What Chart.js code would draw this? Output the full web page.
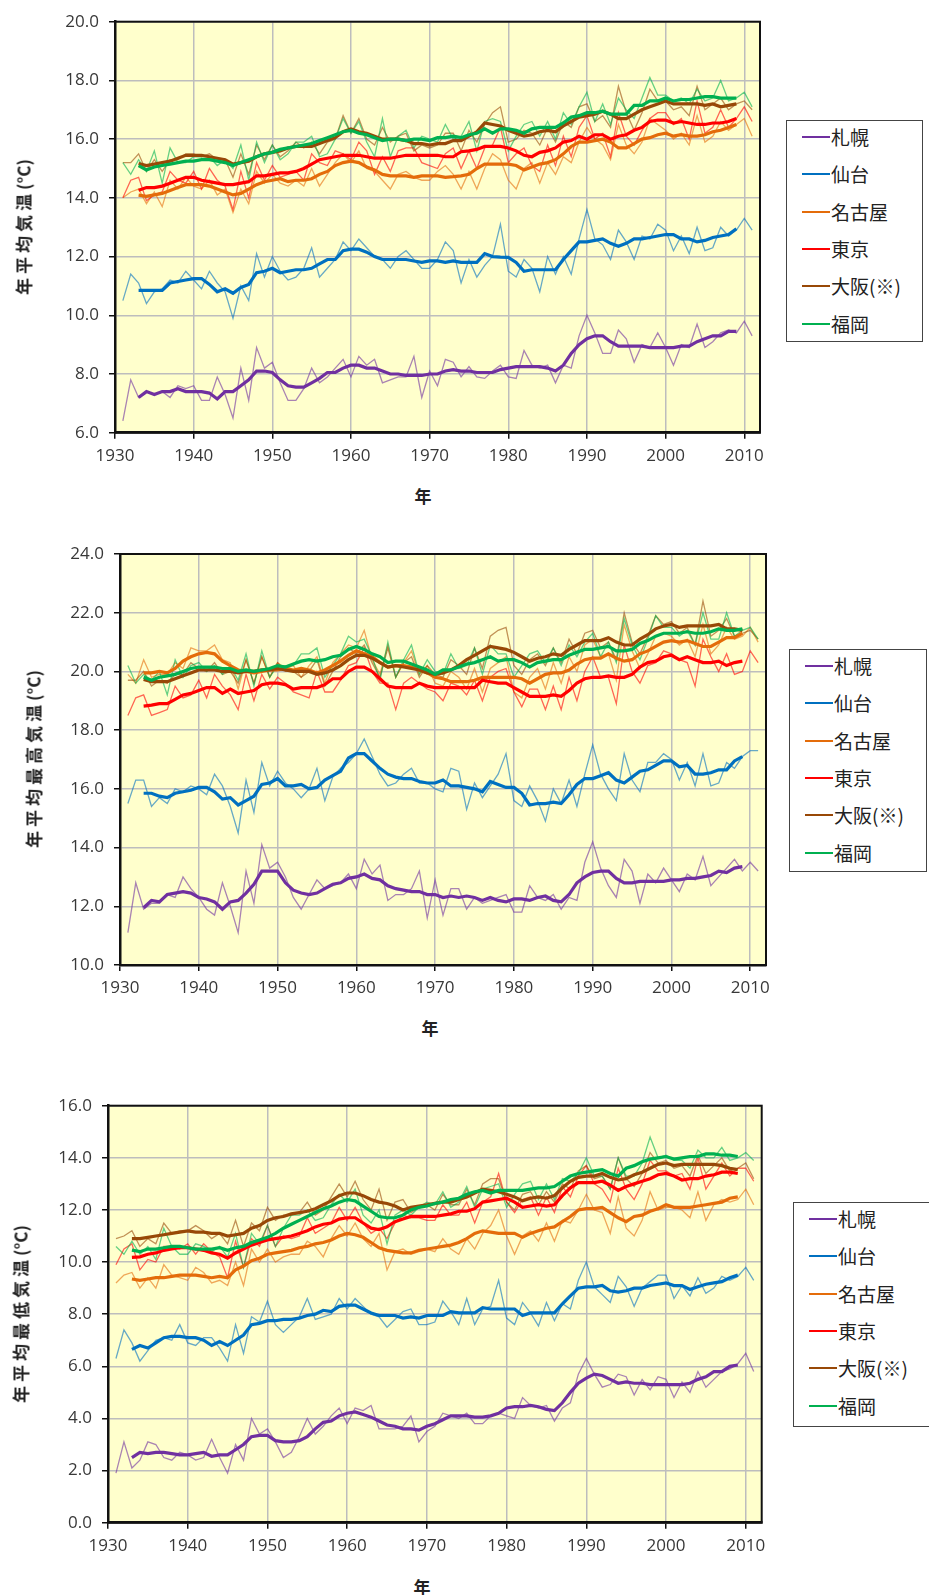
<!DOCTYPE html>
<html>
<head>
<meta charset="utf-8">
<script src="https://cdn.jsdelivr.net/npm/chart.js@4.4.0/dist/chart.umd.min.js"></script>
<style>
  body { margin: 0; background: #fff; width: 929px; height: 1595px; position: relative; overflow: hidden; }
  canvas { position: absolute; left: 0; }
  .ytitle { position: absolute; font: bold 17px "Noto Sans CJK JP", sans-serif; letter-spacing: 4px; color: #222;
            white-space: nowrap; transform: translate(-50%, -50%) rotate(-90deg); }
  .ytitle span { letter-spacing: 0; }
  .xtitle { position: absolute; font: bold 17px "Noto Sans CJK JP", sans-serif; color: #222; transform: translate(-50%, -50%); }
  .legend { position: absolute; border: 1.5px solid #444; background: #fff; box-sizing: border-box; }
  .legend .swatch { position: absolute; height: 2px; }
  .legend .label { position: absolute; font: 19px "Noto Sans CJK JP", sans-serif; color: #222; line-height: 24px;
                   white-space: nowrap; transform: translateY(-50%); }
</style>
</head>
<body>
<canvas id="chartMean" width="929" height="480" style="top:0px"></canvas>
<canvas id="chartMax" width="929" height="480" style="top:530px"></canvas>
<canvas id="chartMin" width="929" height="480" style="top:1085px"></canvas>
<script>
// ---- data ----------------------------------------------------------------
const cityNames = ['札幌', '仙台', '名古屋', '東京', '大阪(※)', '福岡'];
const cityColors = ['#7030A0', '#0070C0', '#E46C0A', '#FF0000', '#984807', '#00B050'];
const xTickYears = [1930, 1940, 1950, 1960, 1970, 1980, 1990, 2000, 2010];
const firstYear = 1931;        // annual values, 1931-2011
const firstMovingYear = 1933;  // 5-year running means, 1933-2009

const meanRange = [6, 20];
const maxRange = [10, 24];
const minRange = [0, 16];

// 年平均気温
const meanSapporo = [6.4, 7.8, 7.2, 7.4, 7.3, 7.4, 7.2, 7.6, 7.5, 7.6,
  7.1, 7.1, 7.9, 7.3, 6.5, 8.2, 7.1, 8.9, 8.2, 8.4,
  7.7, 7.1, 7.1, 7.5, 8.2, 7.7, 7.9, 8.2, 8.5, 7.9,
  8.6, 8.3, 8.5, 7.7, 7.8, 7.9, 7.9, 8.6, 7.2, 8.1,
  7.6, 8.5, 8.4, 7.9, 8.25, 7.9, 7.85, 8.1, 8.3, 7.9,
  7.85, 8.8, 8.3, 8.2, 8.3, 7.7, 8.3, 8.2, 9.3, 10.0,
  9.4, 8.7, 8.7, 9.5, 9.2, 8.4, 9.0, 8.9, 9.4, 8.9,
  8.3, 9.0, 8.9, 9.7, 8.9, 9.1, 9.4, 9.5, 9.4, 9.8, 9.3];
const meanSapporo5 = [7.2, 7.4, 7.3, 7.4, 7.4, 7.5, 7.4, 7.4,
  7.4, 7.35, 7.15, 7.4, 7.4, 7.6, 7.8, 8.1, 8.1, 8.05,
  7.8, 7.6, 7.55, 7.55, 7.7, 7.85, 8.05, 8.05, 8.2, 8.3,
  8.3, 8.2, 8.2, 8.1, 8.0, 8.0, 7.95, 7.95, 7.95, 8.0,
  8.0, 8.1, 8.15, 8.1, 8.1, 8.05, 8.05, 8.05, 8.15, 8.2,
  8.25, 8.25, 8.25, 8.25, 8.2, 8.1, 8.3, 8.7, 9.0, 9.2,
  9.3, 9.3, 9.1, 8.95, 8.95, 8.95, 8.95, 8.9, 8.9, 8.9,
  8.9, 8.95, 8.95, 9.1, 9.2, 9.3, 9.3, 9.45, 9.45];
const meanSendai = [10.5, 11.4, 11.1, 10.4, 10.8, 10.9, 11.2, 11.1, 11.5, 11.2,
  10.9, 11.5, 11.1, 10.8, 9.9, 11.0, 10.5, 12.1, 11.3, 12.0,
  11.5, 11.2, 11.3, 11.6, 12.3, 11.3, 11.6, 11.9, 12.5, 12.2,
  12.6, 12.3, 12.0, 11.9, 11.6, 12.0, 12.2, 11.9, 11.6, 11.6,
  11.9, 12.5, 12.2, 11.1, 11.9, 11.3, 11.7, 12.0, 13.1, 11.5,
  11.3, 11.9, 11.6, 10.8, 12.0, 11.4, 12.0, 11.4, 12.6, 13.6,
  12.6, 12.4, 11.9, 12.9, 12.5, 11.9, 12.7, 12.6, 13.1, 12.9,
  12.2, 12.7, 12.1, 13.0, 12.2, 12.3, 13.0, 12.7, 12.9, 13.3, 12.9];
const meanSendai5 = [10.85, 10.85, 10.85, 10.85, 11.1, 11.15, 11.2, 11.25,
  11.25, 11.05, 10.8, 10.9, 10.75, 10.95, 11.05, 11.45, 11.5, 11.6,
  11.45, 11.5, 11.55, 11.55, 11.6, 11.75, 11.9, 11.9, 12.2, 12.25,
  12.25, 12.15, 12.0, 11.9, 11.9, 11.9, 11.9, 11.85, 11.8, 11.85,
  11.85, 11.8, 11.85, 11.8, 11.8, 11.8, 12.1, 12.0, 11.98, 11.97,
  11.8, 11.5, 11.55, 11.55, 11.55, 11.55, 11.9, 12.2, 12.5, 12.5,
  12.55, 12.6, 12.45, 12.35, 12.45, 12.6, 12.6, 12.65, 12.7, 12.75,
  12.75, 12.6, 12.6, 12.5, 12.55, 12.65, 12.7, 12.75, 12.95];
const meanNagoya = [14.0, 14.2, 14.3, 13.8, 14.2, 13.7, 14.6, 14.3, 14.7, 14.4,
  14.3, 14.6, 14.1, 14.3, 13.5, 14.3, 13.8, 14.9, 14.5, 14.8,
  14.5, 14.4, 14.6, 14.4, 15.0, 14.4, 14.8, 15.2, 15.5, 15.2,
  15.6, 15.0, 14.9, 14.6, 14.3, 14.8, 14.9, 14.7, 14.6, 14.6,
  14.9, 15.1, 14.8, 14.3, 14.9, 14.3, 15.0, 15.5, 15.3, 14.6,
  14.3, 15.0, 15.2, 14.5, 15.2, 14.8, 15.4, 15.2, 15.9, 16.4,
  16.0, 15.8, 15.3, 16.5, 15.8, 15.5, 15.9, 16.7, 16.5, 16.3,
  16.0, 16.2, 15.8, 16.8, 15.9, 16.1, 16.6, 16.3, 16.5, 16.7, 16.1];
const meanNagoya5 = [14.09, 14.05, 14.1, 14.15, 14.25, 14.35, 14.45, 14.45,
  14.45, 14.4, 14.3, 14.2, 14.1, 14.15, 14.3, 14.45, 14.55, 14.6,
  14.65, 14.55, 14.6, 14.6, 14.65, 14.8, 14.9, 15.1, 15.2, 15.25,
  15.2, 15.05, 14.95, 14.8, 14.75, 14.75, 14.75, 14.7, 14.75, 14.75,
  14.75, 14.7, 14.72, 14.75, 14.8, 15.0, 15.15, 15.15, 15.15, 15.15,
  15.1, 14.95, 15.05, 15.15, 15.2, 15.3, 15.5, 15.75, 15.9, 15.9,
  15.95, 16.0, 15.9, 15.7, 15.7, 15.85, 16.0, 16.05, 16.15, 16.2,
  16.1, 16.15, 16.1, 16.1, 16.15, 16.25, 16.3, 16.4, 16.5];
const meanTokyo = [14.0, 14.6, 14.7, 13.9, 14.1, 14.2, 14.9, 14.6, 14.5, 14.9,
  14.3, 15.0, 14.6, 14.4, 13.6, 14.9, 14.0, 15.2, 14.6, 15.1,
  14.7, 14.8, 14.9, 14.6, 15.5, 15.2, 15.1, 15.6, 15.5, 15.3,
  15.9, 15.6, 14.8, 15.4, 14.9, 15.6, 15.7, 15.7, 15.2, 15.1,
  15.0, 15.5, 15.7, 15.0, 15.6, 15.0, 15.7, 15.8, 16.4, 15.2,
  15.5, 15.7, 15.1, 14.9, 15.8, 15.1, 16.1, 15.4, 16.4, 16.8,
  16.0, 16.2, 15.4, 16.9, 16.1, 15.8, 16.3, 16.7, 16.9, 16.9,
  16.5, 16.7, 16.0, 17.3, 16.2, 16.4, 17.0, 16.4, 16.7, 17.1, 16.6];
const meanTokyo5 = [14.26, 14.35, 14.35, 14.4, 14.5, 14.6, 14.7, 14.7,
  14.6, 14.55, 14.5, 14.45, 14.45, 14.5, 14.55, 14.75, 14.75, 14.8,
  14.85, 14.85, 14.9, 15.0, 15.15, 15.3, 15.35, 15.4, 15.45, 15.45,
  15.45, 15.4, 15.35, 15.35, 15.35, 15.4, 15.45, 15.45, 15.45, 15.45,
  15.45, 15.4, 15.4, 15.57, 15.6, 15.65, 15.75, 15.75, 15.75, 15.7,
  15.6, 15.45, 15.4, 15.55, 15.6, 15.7, 15.9, 15.95, 16.1, 16.0,
  16.15, 16.15, 16.0, 16.1, 16.15, 16.3, 16.4, 16.6, 16.65, 16.65,
  16.55, 16.6, 16.55, 16.5, 16.5, 16.55, 16.55, 16.6, 16.7];
const meanOsaka = [15.2, 15.2, 15.5, 14.9, 15.3, 14.9, 15.3, 15.3, 15.5, 15.5,
  15.4, 15.5, 15.3, 15.3, 14.7, 15.5, 14.8, 15.8, 15.3, 15.8,
  15.4, 15.6, 15.9, 15.7, 15.9, 15.5, 15.9, 16.0, 16.8, 16.2,
  16.7, 16.0, 15.8, 16.4, 15.9, 16.1, 16.2, 15.6, 15.8, 15.7,
  15.8, 16.2, 16.2, 15.6, 16.3, 15.9, 16.5, 16.9, 17.1, 15.9,
  16.0, 16.3, 16.2, 15.8, 16.4, 15.9, 16.6, 16.4, 17.1, 17.2,
  16.6, 16.8, 16.4, 17.8, 16.9, 16.3, 16.9, 17.7, 17.3, 17.3,
  17.0, 17.1, 16.8, 17.8, 17.0, 17.2, 17.4, 17.0, 17.2, 17.3, 17.0];
const meanOsaka5 = [15.17, 15.1, 15.15, 15.2, 15.25, 15.35, 15.45, 15.45,
  15.45, 15.4, 15.35, 15.3, 15.15, 15.2, 15.25, 15.4, 15.5, 15.55,
  15.6, 15.7, 15.75, 15.75, 15.75, 15.85, 15.95, 16.05, 16.25, 16.35,
  16.25, 16.2, 16.1, 16.0, 16.0, 16.0, 15.95, 15.85, 15.85, 15.8,
  15.85, 15.85, 15.95, 15.95, 16.1, 16.25, 16.55, 16.5, 16.45, 16.3,
  16.2, 16.1, 16.15, 16.25, 16.3, 16.25, 16.45, 16.6, 16.75, 16.8,
  16.85, 16.95, 16.85, 16.7, 16.7, 16.85, 17.0, 17.1, 17.2, 17.3,
  17.2, 17.2, 17.2, 17.2, 17.15, 17.2, 17.1, 17.15, 17.2];
const meanFukuoka = [15.2, 14.8, 15.3, 14.9, 15.6, 14.5, 15.7, 15.2, 15.2, 15.4,
  15.4, 15.4, 15.1, 15.3, 15.0, 15.8, 14.6, 15.9, 15.2, 15.8,
  15.3, 15.5, 15.9, 15.9, 16.1, 15.4, 15.5, 16.0, 16.7, 16.2,
  16.6, 15.9, 15.4, 16.7, 15.4, 16.1, 16.3, 15.7, 16.1, 16.0,
  15.9, 16.5, 16.0, 16.1, 16.6, 15.6, 16.6, 16.7, 16.6, 15.6,
  16.1, 16.5, 16.6, 16.1, 16.6, 16.0, 16.9, 16.5, 17.1, 17.6,
  16.6, 17.2, 16.5, 17.4, 17.0, 16.7, 17.4, 18.1, 17.5, 17.5,
  17.3, 17.4, 17.2, 17.7, 17.3, 17.4, 18.0, 17.3, 17.4, 17.6, 17.1];
const meanFukuoka5 = [15.1, 14.95, 15.05, 15.1, 15.15, 15.2, 15.25, 15.25,
  15.3, 15.3, 15.25, 15.2, 15.1, 15.2, 15.3, 15.4, 15.5, 15.55,
  15.65, 15.7, 15.75, 15.8, 15.85, 15.95, 16.05, 16.15, 16.25, 16.3,
  16.2, 16.15, 16.05, 15.95, 16.0, 16.0, 15.95, 16.0, 16.0, 15.95,
  16.05, 16.05, 16.1, 16.05, 16.15, 16.2, 16.35, 16.2, 16.35, 16.35,
  16.3, 16.2, 16.35, 16.4, 16.4, 16.4, 16.55, 16.75, 16.8, 16.9,
  16.9, 16.95, 16.85, 16.85, 16.85, 17.15, 17.15, 17.3, 17.3, 17.4,
  17.3, 17.35, 17.35, 17.4, 17.45, 17.45, 17.4, 17.4, 17.4];

// 年平均最高気温
const maxSapporo = [11.1, 12.8, 11.9, 12.1, 12.1, 12.4, 12.3, 13.0, 12.6, 12.3,
  11.9, 11.7, 12.8, 12.0, 11.1, 13.2, 12.1, 14.1, 13.3, 13.5,
  13.0, 12.3, 11.9, 12.4, 12.9, 12.6, 12.7, 12.8, 13.1, 12.6,
  13.6, 13.1, 13.4, 12.2, 12.4, 12.4, 12.6, 13.2, 11.6, 12.9,
  11.7, 12.6, 12.6, 11.9, 12.3, 12.1, 12.2, 12.3, 12.4, 11.8,
  11.8, 12.7, 12.3, 12.2, 12.4, 11.9, 12.3, 12.2, 13.5, 14.2,
  13.3, 12.7, 12.3, 13.6, 13.2, 12.1, 13.1, 12.8, 13.3, 12.9,
  12.5, 13.1, 12.9, 13.7, 12.7, 13.0, 13.3, 13.6, 13.2, 13.5, 13.2];
const maxSapporo5 = [11.95, 12.2, 12.15, 12.4, 12.45, 12.5, 12.45, 12.3,
  12.25, 12.15, 11.9, 12.15, 12.2, 12.45, 12.75, 13.2, 13.2, 13.2,
  12.8, 12.55, 12.45, 12.4, 12.45, 12.6, 12.75, 12.8, 12.95, 13.0,
  13.1, 12.95, 12.9, 12.7, 12.6, 12.55, 12.5, 12.5, 12.4, 12.4,
  12.3, 12.35, 12.3, 12.35, 12.3, 12.2, 12.3, 12.2, 12.15, 12.25,
  12.25, 12.2, 12.3, 12.35, 12.2, 12.15, 12.4, 12.8, 13.0, 13.15,
  13.2, 13.2, 12.95, 12.8, 12.8, 12.85, 12.85, 12.85, 12.85, 12.9,
  12.9, 12.95, 12.95, 13.0, 13.05, 13.2, 13.15, 13.3, 13.35];
const maxSendai = [15.5, 16.3, 16.3, 15.4, 15.7, 15.5, 16.0, 15.9, 16.1, 16.0,
  15.8, 16.5, 16.1, 15.4, 14.5, 16.3, 15.2, 16.9, 16.1, 16.6,
  16.2, 16.0, 15.7, 16.0, 16.7, 15.6, 16.4, 16.7, 16.9, 17.2,
  17.7, 17.1, 16.5, 16.1, 16.2, 16.5, 16.7, 16.2, 16.2, 16.0,
  15.9, 16.7, 16.6, 15.3, 16.2, 15.7, 16.1, 16.5, 17.2, 15.6,
  15.4, 16.1, 15.6, 14.9, 16.0, 15.5, 16.3, 15.4, 16.5, 17.5,
  16.5, 16.0, 15.6, 17.2, 16.3, 15.9, 16.9, 16.9, 17.2, 17.0,
  16.3, 16.9, 16.1, 17.2, 16.1, 16.2, 16.9, 16.7, 17.1, 17.3, 17.3];
const maxSendai5 = [15.85, 15.85, 15.75, 15.7, 15.85, 15.9, 15.95, 16.05,
  16.05, 15.9, 15.65, 15.7, 15.45, 15.6, 15.75, 16.15, 16.2, 16.35,
  16.1, 16.1, 16.15, 16.0, 16.05, 16.3, 16.45, 16.6, 17.05, 17.2,
  17.2, 16.95, 16.7, 16.5, 16.4, 16.35, 16.35, 16.25, 16.2, 16.2,
  16.3, 16.1, 16.1, 16.05, 16.0, 15.9, 16.25, 16.15, 16.05, 16.05,
  15.85, 15.45, 15.5, 15.5, 15.55, 15.5, 15.8, 16.15, 16.35, 16.35,
  16.45, 16.55, 16.3, 16.2, 16.4, 16.6, 16.65, 16.8, 16.95, 16.95,
  16.75, 16.8, 16.5, 16.5, 16.55, 16.65, 16.65, 16.95, 17.1];
const maxNagoya = [19.9, 19.6, 20.4, 19.8, 19.9, 19.9, 20.3, 20.1, 20.8, 20.7,
  20.7, 20.9, 20.4, 20.3, 19.4, 20.4, 19.6, 20.5, 19.8, 20.3,
  20.1, 20.2, 19.8, 20.2, 20.5, 19.6, 20.3, 20.6, 20.9, 20.8,
  21.4, 20.4, 19.9, 20.9, 19.8, 20.3, 20.7, 19.9, 20.2, 19.6,
  19.5, 20.0, 19.8, 19.4, 20.1, 19.3, 20.1, 20.3, 20.5, 19.3,
  19.1, 19.8, 20.1, 19.4, 20.3, 19.6, 20.5, 20.0, 20.9, 21.1,
  20.5, 20.6, 19.7, 21.6, 20.7, 20.1, 20.6, 21.2, 21.3, 21.2,
  20.9, 21.1, 20.5, 21.6, 20.6, 20.9, 21.5, 21.1, 21.2, 21.5, 21.0];
const maxNagoya5 = [19.95, 19.95, 20.0, 19.95, 20.1, 20.35, 20.5, 20.6,
  20.65, 20.6, 20.35, 20.2, 20.05, 20.0, 19.95, 20.0, 20.05, 20.05,
  20.1, 20.05, 20.1, 20.05, 19.95, 20.05, 20.2, 20.35, 20.55, 20.7,
  20.6, 20.5, 20.3, 20.15, 20.2, 20.2, 20.15, 20.05, 19.95, 19.8,
  19.75, 19.65, 19.65, 19.65, 19.7, 19.8, 19.8, 19.8, 19.8, 19.8,
  19.75, 19.6, 19.75, 19.9, 19.95, 19.95, 20.05, 20.25, 20.4, 20.45,
  20.45, 20.6, 20.45, 20.35, 20.4, 20.6, 20.7, 20.85, 21.0, 21.05,
  21.0, 21.05, 20.95, 20.85, 20.85, 21.0, 21.15, 21.15, 21.3];
const maxTokyo = [18.5, 19.1, 19.2, 18.5, 18.6, 18.7, 19.5, 19.1, 19.2, 19.7,
  19.1, 19.9, 19.5, 19.2, 18.7, 19.9, 19.0, 19.9, 19.4, 19.8,
  19.6, 19.3, 19.2, 19.1, 20.0, 19.3, 19.3, 19.7, 20.2, 20.3,
  20.8, 20.0, 19.6, 19.6, 18.7, 19.6, 19.8, 19.6, 19.4, 19.3,
  19.0, 19.6, 19.5, 19.2, 19.7, 19.0, 19.8, 20.0, 20.1, 19.3,
  18.8, 19.4, 19.4, 18.7, 19.5, 18.7, 19.8, 19.0, 20.0, 20.5,
  19.8, 19.8, 18.9, 20.9, 20.0, 19.6, 20.2, 20.3, 20.7, 20.6,
  20.4, 20.3, 19.5, 21.1, 20.5, 20.0, 20.6, 19.9, 20.0, 20.7, 20.3];
const maxTokyo5 = [18.82, 18.85, 18.9, 18.9, 19.05, 19.2, 19.25, 19.35,
  19.45, 19.45, 19.25, 19.4, 19.25, 19.3, 19.35, 19.55, 19.6, 19.6,
  19.55, 19.4, 19.45, 19.45, 19.45, 19.55, 19.75, 19.75, 20.0, 20.15,
  20.15, 20.0, 19.75, 19.5, 19.45, 19.45, 19.45, 19.6, 19.5, 19.45,
  19.45, 19.45, 19.45, 19.45, 19.45, 19.7, 19.65, 19.6, 19.6, 19.45,
  19.3, 19.15, 19.15, 19.15, 19.2, 19.15, 19.35, 19.6, 19.75, 19.8,
  19.8, 19.85, 19.8, 19.8, 19.9, 20.15, 20.3, 20.35, 20.5, 20.55,
  20.4, 20.5, 20.4, 20.3, 20.3, 20.35, 20.2, 20.3, 20.35];
const maxOsaka = [19.7, 19.7, 20.0, 19.5, 19.7, 19.6, 19.9, 19.9, 20.3, 20.1,
  20.0, 20.3, 19.9, 20.0, 19.6, 20.4, 19.6, 20.5, 19.8, 20.3,
  20.0, 20.0, 19.8, 20.0, 20.4, 19.5, 20.0, 20.5, 20.8, 20.6,
  20.9, 20.3, 19.8, 20.8, 19.8, 20.3, 20.5, 19.8, 20.2, 19.9,
  19.8, 20.4, 20.2, 19.9, 20.8, 20.1, 21.2, 21.4, 21.5, 20.2,
  19.9, 20.4, 20.6, 20.2, 20.8, 20.3, 21.1, 20.6, 21.3, 21.4,
  20.8, 21.0, 20.4, 22.0, 21.0, 20.6, 21.2, 21.9, 21.6, 21.7,
  21.3, 21.5, 20.9, 22.4, 21.2, 21.4, 21.8, 21.2, 21.3, 21.4, 21.1];
const maxOsaka5 = [19.73, 19.65, 19.65, 19.65, 19.75, 19.85, 19.95, 20.05,
  20.05, 20.05, 20.0, 20.0, 19.95, 20.0, 20.0, 20.05, 20.05, 20.1,
  20.05, 20.0, 20.0, 20.0, 19.9, 19.95, 20.05, 20.2, 20.4, 20.55,
  20.55, 20.45, 20.3, 20.15, 20.2, 20.15, 20.1, 20.05, 19.95, 19.9,
  19.95, 20.05, 20.2, 20.4, 20.55, 20.7, 20.85, 20.8, 20.75, 20.65,
  20.5, 20.35, 20.45, 20.5, 20.6, 20.55, 20.75, 20.9, 21.05, 21.05,
  21.05, 21.15, 21.0, 20.9, 20.9, 21.1, 21.25, 21.45, 21.55, 21.6,
  21.5, 21.55, 21.55, 21.55, 21.55, 21.6, 21.45, 21.45, 21.4];
const maxFukuoka = [20.2, 19.6, 19.9, 19.7, 20.0, 19.2, 20.4, 19.8, 20.2, 20.3,
  20.0, 20.2, 19.9, 20.2, 19.7, 20.6, 19.5, 20.7, 19.8, 20.2,
  20.2, 20.2, 20.6, 20.6, 20.8, 19.8, 20.2, 20.6, 21.2, 21.0,
  21.1, 20.5, 19.7, 21.0, 19.8, 20.4, 20.9, 19.9, 20.4, 20.0,
  19.9, 20.6, 20.1, 20.2, 20.8, 19.9, 20.9, 20.6, 20.6, 19.8,
  20.2, 20.6, 20.7, 20.3, 20.8, 20.2, 20.9, 20.5, 21.0, 21.3,
  20.5, 21.0, 20.3, 21.8, 20.9, 20.4, 21.1, 21.9, 21.5, 21.5,
  21.2, 21.4, 20.9, 22.0, 21.1, 21.1, 22.0, 21.2, 21.4, 21.5, 21.1];
const maxFukuoka5 = [19.8, 19.7, 19.8, 19.85, 19.9, 20.0, 20.1, 20.15,
  20.15, 20.15, 20.1, 20.1, 20.0, 20.05, 20.0, 20.05, 20.1, 20.2,
  20.15, 20.25, 20.35, 20.4, 20.35, 20.4, 20.5, 20.55, 20.75, 20.85,
  20.75, 20.6, 20.5, 20.3, 20.35, 20.35, 20.25, 20.15, 20.05, 19.9,
  20.05, 20.05, 20.15, 20.25, 20.3, 20.4, 20.5, 20.35, 20.4, 20.4,
  20.3, 20.15, 20.3, 20.35, 20.4, 20.4, 20.55, 20.65, 20.75, 20.75,
  20.8, 20.85, 20.7, 20.7, 20.75, 20.95, 21.05, 21.2, 21.3, 21.3,
  21.3, 21.35, 21.3, 21.3, 21.35, 21.45, 21.4, 21.4, 21.45];

// 年平均最低気温
const minSapporo = [1.9, 3.1, 2.1, 2.4, 3.1, 3.0, 2.5, 2.4, 2.7, 2.6,
  2.4, 2.5, 3.2, 2.5, 1.9, 3.0, 2.4, 4.0, 3.4, 3.6,
  3.1, 2.5, 2.7, 3.3, 4.0, 3.4, 3.7, 4.1, 4.4, 3.8,
  4.4, 4.3, 4.5, 3.6, 3.6, 3.6, 3.7, 4.1, 3.1, 3.5,
  3.7, 4.2, 4.1, 4.0, 4.2, 3.8, 3.8, 4.1, 4.2, 4.1,
  4.0, 4.8, 4.5, 4.4, 4.5, 3.9, 4.4, 4.6, 5.7, 6.3,
  5.7, 5.2, 5.3, 5.7, 5.6, 4.9, 5.5, 5.1, 5.6, 5.5,
  4.8, 5.4, 5.0, 5.8, 5.2, 5.5, 5.8, 5.9, 6.1, 6.5, 5.8];
const minSapporo5 = [2.5, 2.7, 2.65, 2.7, 2.7, 2.65, 2.6, 2.6,
  2.65, 2.7, 2.55, 2.6, 2.6, 2.8, 3.0, 3.3, 3.35, 3.35,
  3.15, 3.1, 3.1, 3.15, 3.3, 3.6, 3.85, 3.9, 4.1, 4.2,
  4.25, 4.15, 4.05, 3.9, 3.75, 3.7, 3.6, 3.6, 3.55, 3.7,
  3.8, 3.95, 4.1, 4.1, 4.1, 4.05, 4.05, 4.1, 4.2, 4.4,
  4.45, 4.45, 4.5, 4.45, 4.35, 4.3, 4.6, 5.0, 5.35, 5.55,
  5.7, 5.65, 5.5, 5.35, 5.4, 5.35, 5.35, 5.3, 5.3, 5.3,
  5.3, 5.3, 5.35, 5.5, 5.6, 5.8, 5.8, 6.0, 6.05];
const minSendai = [6.3, 7.4, 6.9, 6.2, 6.6, 7.0, 7.1, 7.0, 7.6, 6.9,
  6.8, 7.1, 7.1, 6.7, 6.2, 7.6, 6.5, 7.9, 7.7, 8.5,
  7.6, 7.3, 7.6, 7.9, 8.6, 7.8, 7.9, 8.0, 8.6, 8.2,
  8.6, 8.3, 8.0, 7.9, 7.5, 7.8, 8.1, 8.2, 7.6, 7.6,
  7.7, 8.5, 8.1, 7.6, 8.6, 7.6, 8.2, 8.3, 9.3, 7.85,
  7.6, 8.45, 8.05, 7.55, 8.45, 7.75, 8.4, 8.2, 9.3, 10.0,
  9.05, 8.75, 8.45, 9.45, 9.05, 8.3, 9.0, 9.25, 9.5, 9.5,
  8.6, 9.1, 8.7, 9.4, 8.8, 9.0, 9.45, 9.3, 9.45, 9.8, 9.3];
const minSendai5 = [6.65, 6.8, 6.7, 6.9, 7.1, 7.15, 7.15, 7.1,
  7.1, 7.0, 6.8, 6.95, 6.8, 7.0, 7.2, 7.6, 7.65, 7.75,
  7.75, 7.8, 7.8, 7.85, 7.95, 8.0, 8.15, 8.1, 8.3, 8.35,
  8.35, 8.2, 8.05, 7.95, 7.95, 7.95, 7.85, 7.9, 7.85, 7.95,
  7.95, 7.95, 8.1, 8.05, 8.05, 8.05, 8.25, 8.2, 8.2, 8.2,
  8.2, 7.95, 8.05, 8.05, 8.05, 8.05, 8.4, 8.7, 9.0, 9.05,
  9.05, 9.1, 8.9, 8.85, 8.9, 9.0, 9.0, 9.1, 9.15, 9.2,
  9.1, 9.1, 8.95, 9.05, 9.15, 9.2, 9.25, 9.4, 9.5];
const minNagoya = [9.2, 9.5, 9.6, 9.0, 9.4, 9.0, 9.9, 9.5, 9.4, 9.3,
  9.8, 9.6, 9.2, 9.3, 9.1, 10.0, 9.1, 10.5, 10.0, 10.5,
  10.0, 10.2, 10.3, 10.3, 10.8, 10.6, 10.2, 10.9, 11.4, 11.0,
  11.5, 10.9, 10.6, 11.1, 9.7, 10.4, 10.5, 10.3, 10.4, 10.5,
  10.4, 10.9, 10.5, 10.3, 10.9, 10.5, 11.1, 11.4, 12.0, 11.0,
  10.3, 11.0, 11.2, 10.8, 11.5, 10.8, 11.6, 11.5, 12.0, 12.6,
  12.0, 11.9, 11.1, 12.5, 11.3, 11.0, 11.6, 12.7, 12.0, 12.1,
  12.1, 12.0, 11.7, 12.7, 11.6, 12.2, 12.4, 12.3, 12.4, 12.8, 12.2];
const minNagoya5 = [9.35, 9.3, 9.35, 9.4, 9.4, 9.45, 9.5, 9.5,
  9.5, 9.45, 9.4, 9.45, 9.4, 9.7, 9.85, 10.05, 10.15, 10.3,
  10.35, 10.4, 10.45, 10.55, 10.6, 10.7, 10.75, 10.85, 11.0, 11.1,
  11.05, 10.95, 10.75, 10.55, 10.45, 10.4, 10.35, 10.35, 10.45, 10.5,
  10.55, 10.6, 10.65, 10.75, 10.9, 11.1, 11.2, 11.15, 11.1, 11.1,
  11.1, 10.95, 11.1, 11.2, 11.3, 11.35, 11.55, 11.75, 12.0, 12.05,
  12.05, 12.1, 11.9, 11.7, 11.55, 11.75, 11.8, 11.95, 12.05, 12.2,
  12.1, 12.1, 12.1, 12.15, 12.2, 12.25, 12.3, 12.45, 12.5];
const minTokyo = [9.9, 10.5, 10.7, 9.7, 10.1, 10.0, 10.6, 10.6, 10.5, 10.7,
  10.3, 10.7, 10.4, 10.2, 9.4, 10.8, 9.8, 10.9, 10.6, 11.4,
  10.6, 11.0, 10.9, 11.0, 11.7, 11.1, 11.3, 11.5, 12.1, 11.6,
  12.1, 11.5, 11.1, 11.3, 10.9, 11.5, 11.8, 11.7, 11.7, 11.6,
  11.6, 12.2, 11.8, 11.8, 12.3, 11.5, 12.3, 12.5, 13.4, 12.3,
  11.9, 12.4, 12.5, 11.8, 12.5, 11.9, 12.9, 12.5, 13.3, 13.7,
  13.0, 12.8, 12.3, 13.6, 12.8, 12.4, 13.0, 13.9, 13.5, 13.5,
  13.3, 13.4, 12.8, 14.0, 12.8, 13.3, 13.8, 13.3, 13.6, 13.6, 13.1];
const minTokyo5 = [10.18, 10.2, 10.3, 10.35, 10.45, 10.5, 10.55, 10.55,
  10.5, 10.45, 10.35, 10.3, 10.15, 10.35, 10.5, 10.65, 10.75, 10.85,
  10.9, 10.95, 11.0, 11.1, 11.2, 11.35, 11.45, 11.5, 11.65, 11.7,
  11.7, 11.5, 11.3, 11.25, 11.35, 11.55, 11.65, 11.75, 11.75, 11.75,
  11.75, 11.8, 11.85, 11.95, 11.95, 12.05, 12.3, 12.35, 12.4, 12.45,
  12.3, 12.1, 12.15, 12.2, 12.15, 12.2, 12.55, 12.85, 13.05, 13.05,
  13.05, 13.1, 12.95, 12.75, 12.9, 13.0, 13.1, 13.2, 13.35, 13.4,
  13.3, 13.15, 13.2, 13.2, 13.3, 13.35, 13.45, 13.45, 13.4];
const minOsaka = [10.9, 11.0, 11.2, 10.6, 10.9, 10.7, 11.5, 11.1, 11.2, 11.2,
  11.4, 11.2, 10.9, 11.1, 10.7, 11.6, 10.6, 11.5, 11.2, 12.1,
  11.6, 11.8, 11.8, 11.9, 12.3, 11.8, 12.0, 12.5, 13.0, 12.5,
  13.1, 12.4, 12.0, 12.8, 11.6, 12.3, 12.4, 11.9, 12.1, 12.2,
  12.0, 12.6, 12.2, 12.2, 12.8, 12.2, 13.0, 13.2, 13.2, 12.3,
  12.0, 12.6, 12.7, 12.2, 12.7, 12.3, 13.0, 12.8, 13.5, 13.7,
  13.2, 13.3, 12.8, 14.0, 13.2, 12.9, 13.4, 14.2, 13.8, 13.9,
  13.6, 13.7, 13.3, 14.1, 13.4, 13.7, 14.0, 13.5, 13.6, 13.8, 13.2];
const minOsaka5 = [10.9, 10.9, 10.95, 11.0, 11.05, 11.1, 11.15, 11.2,
  11.15, 11.15, 11.1, 11.1, 11.0, 11.05, 11.1, 11.3, 11.4, 11.6,
  11.7, 11.75, 11.85, 11.9, 11.95, 12.05, 12.2, 12.35, 12.55, 12.65,
  12.65, 12.55, 12.4, 12.3, 12.25, 12.15, 12.0, 12.1, 12.15, 12.2,
  12.25, 12.3, 12.3, 12.4, 12.5, 12.65, 12.8, 12.75, 12.7, 12.6,
  12.5, 12.35, 12.45, 12.5, 12.45, 12.55, 12.85, 13.1, 13.25, 13.3,
  13.3, 13.4, 13.25, 13.15, 13.2, 13.35, 13.45, 13.6, 13.75, 13.8,
  13.7, 13.75, 13.75, 13.75, 13.75, 13.75, 13.7, 13.6, 13.55];
const minFukuoka = [10.6, 10.3, 10.8, 10.3, 10.6, 10.1, 11.3, 10.6, 10.3, 10.3,
  10.7, 10.6, 10.4, 10.6, 10.2, 11.1, 9.8, 11.1, 10.7, 11.4,
  10.6, 11.3, 11.8, 11.8, 12.0, 11.6, 11.7, 12.2, 12.6, 12.3,
  12.8, 11.8, 11.5, 12.0, 10.7, 11.8, 12.0, 11.8, 12.1, 12.3,
  12.2, 12.7, 12.1, 12.3, 12.9, 12.1, 12.8, 12.9, 13.0, 12.1,
  12.6, 13.0, 13.1, 12.4, 13.0, 12.4, 13.2, 13.1, 13.4, 14.0,
  13.3, 13.3, 12.8, 14.0, 13.3, 13.3, 13.8, 14.8, 14.0, 14.1,
  13.9, 13.9, 13.6, 14.3, 14.0, 14.0, 14.4, 13.9, 14.0, 14.2, 13.9];
const minFukuoka5 = [10.46, 10.4, 10.5, 10.5, 10.55, 10.6, 10.6, 10.55,
  10.5, 10.5, 10.5, 10.55, 10.45, 10.55, 10.6, 10.75, 10.85, 10.95,
  11.1, 11.3, 11.45, 11.6, 11.75, 11.9, 12.05, 12.15, 12.3, 12.4,
  12.35, 12.15, 11.95, 11.75, 11.7, 11.7, 11.8, 12.0, 12.1, 12.15,
  12.25, 12.3, 12.4, 12.45, 12.6, 12.7, 12.75, 12.65, 12.75, 12.75,
  12.75, 12.75, 12.8, 12.85, 12.85, 12.9, 13.1, 13.3, 13.4, 13.45,
  13.5, 13.55, 13.4, 13.3, 13.6, 13.7, 13.85, 13.95, 14.0, 14.05,
  13.95, 14.0, 14.05, 14.05, 14.15, 14.15, 14.1, 14.1, 14.05];

// ---- panels (layout in page pixels) --------------------------------------
const panels = [
  { id: 'chartMean', top: 0, range: meanRange, title: ['年平均気温', '(°C)'],
    annual: [meanSapporo, meanSendai, meanNagoya, meanTokyo, meanOsaka, meanFukuoka],
    moving: [meanSapporo5, meanSendai5, meanNagoya5, meanTokyo5, meanOsaka5, meanFukuoka5],
    plot: { left: 115, right: 760, top: 21.7, bottom: 432.7 },
    yTitle: [22.5, 227], xTitle: [423, 495],
    legend: { left: 786, top: 120, width: 137, height: 222 } },
  { id: 'chartMax', top: 530, range: maxRange, title: ['年平均最高気温', '(°C)'],
    annual: [maxSapporo, maxSendai, maxNagoya, maxTokyo, maxOsaka, maxFukuoka],
    moving: [maxSapporo5, maxSendai5, maxNagoya5, maxTokyo5, maxOsaka5, maxFukuoka5],
    plot: { left: 120, right: 766, top: 554, bottom: 965 },
    yTitle: [33, 759], xTitle: [430, 1027],
    legend: { left: 789, top: 649, width: 138, height: 223 } },
  { id: 'chartMin', top: 1085, range: minRange, title: ['年平均最低気温', '(°C)'],
    annual: [minSapporo, minSendai, minNagoya, minTokyo, minOsaka, minFukuoka],
    moving: [minSapporo5, minSendai5, minNagoya5, minTokyo5, minOsaka5, minFukuoka5],
    plot: { left: 108, right: 761.7, top: 1105.7, bottom: 1522.7 },
    yTitle: [20, 1314], xTitle: [422, 1586],
    legend: { left: 793, top: 1202, width: 140, height: 225 } }
];

const CANVAS_H = 480;
const X_AXIS_H = 30;
const tickFont = { family: '"Open Sans", "DejaVu Sans", sans-serif', size: 17 };

function fade(hex, a) {
  const n = parseInt(hex.slice(1), 16);
  return 'rgba(' + (n >> 16) + ',' + ((n >> 8) & 255) + ',' + (n & 255) + ',' + a + ')';
}

function toPoints(values, start) {
  return values.map(function (v, i) { return { x: start + i, y: v }; });
}

// yellow plot background + black frame around the plot
const plotFrame = {
  id: 'plotFrame',
  beforeDraw: function (chart) {
    const a = chart.chartArea, ctx = chart.ctx;
    ctx.save();
    ctx.fillStyle = '#FFFFCC';
    ctx.fillRect(a.left, a.top, a.right - a.left, a.bottom - a.top);
    ctx.restore();
  },
  afterDraw: function (chart) {
    const a = chart.chartArea, ctx = chart.ctx;
    ctx.save();
    ctx.strokeStyle = '#111';
    ctx.lineWidth = 2;
    ctx.strokeRect(a.left, a.top, a.right - a.left, a.bottom - a.top);
    ctx.restore();
  }
};

function drawPanel(p) {
  const datasets = [];
  p.annual.forEach(function (vals, i) {
    datasets.push({ label: cityNames[i], data: toPoints(vals, firstYear),
      borderColor: fade(cityColors[i], 0.6), borderWidth: 1.3, order: 20 - i });
  });
  p.moving.forEach(function (vals, i) {
    datasets.push({ label: cityNames[i] + ' 5年移動平均', data: toPoints(vals, firstMovingYear),
      borderColor: cityColors[i], borderWidth: 3.2, order: 10 - i });
  });

  const pad = {
    left: 0,
    top: p.plot.top - p.top,
    right: 929 - p.plot.right,
    bottom: p.top + CANVAS_H - p.plot.bottom - X_AXIS_H
  };

  new Chart(document.getElementById(p.id), {
    type: 'line',
    data: { datasets: datasets },
    options: {
      responsive: false,
      animation: false,
      devicePixelRatio: 1,
      layout: { padding: pad },
      elements: { point: { radius: 0 }, line: { tension: 0, fill: false } },
      plugins: { legend: { display: false }, tooltip: { enabled: false } },
      scales: {
        x: {
          type: 'linear', min: 1930, max: 2012,
          afterBuildTicks: function (s) { s.ticks = xTickYears.map(function (v) { return { value: v }; }); },
          afterFit: function (s) { s.height = X_AXIS_H; },
          ticks: { font: tickFont, color: '#383838', padding: 7, maxRotation: 0, autoSkip: false,
                   callback: function (v) { return String(v); } },
          grid: { color: '#BDBDBD', lineWidth: 1.5, tickLength: 6, tickColor: '#111', tickWidth: 1.5 },
          border: { color: '#111', width: 2.5 }
        },
        y: {
          min: p.range[0], max: p.range[1],
          afterFit: function (s) { s.width = p.plot.left; },
          ticks: { stepSize: 2, font: tickFont, color: '#383838', padding: 10,
                   callback: function (v) { return v.toFixed(1); } },
          grid: { color: '#BDBDBD', lineWidth: 1.5, tickLength: 6, tickColor: '#111', tickWidth: 1.5 },
          border: { color: '#111', width: 2.5 }
        }
      }
    },
    plugins: [plotFrame]
  });

  // axis titles
  const yt = document.createElement('div');
  yt.className = 'ytitle';
  yt.appendChild(document.createTextNode(p.title[0]));
  const unit = document.createElement('span');
  unit.textContent = p.title[1];
  yt.appendChild(unit);
  yt.style.left = p.yTitle[0] + 'px';
  yt.style.top = p.yTitle[1] + 'px';
  document.body.appendChild(yt);

  const xt = document.createElement('div');
  xt.className = 'xtitle';
  xt.textContent = '年';
  xt.style.left = p.xTitle[0] + 'px';
  xt.style.top = p.xTitle[1] + 'px';
  document.body.appendChild(xt);

  // legend box
  const lg = document.createElement('div');
  lg.className = 'legend';
  lg.style.left = p.legend.left + 'px';
  lg.style.top = p.legend.top + 'px';
  lg.style.width = p.legend.width + 'px';
  lg.style.height = p.legend.height + 'px';
  cityNames.forEach(function (name, i) {
    const cy = 16 + i * 37.3;
    const sw = document.createElement('div');
    sw.className = 'swatch';
    sw.style.left = '15px';
    sw.style.width = '28px';
    sw.style.top = (cy - 1) + 'px';
    sw.style.background = cityColors[i];
    lg.appendChild(sw);
    const tx = document.createElement('div');
    tx.className = 'label';
    tx.style.left = '44px';
    tx.style.top = cy + 'px';
    tx.textContent = name;
    lg.appendChild(tx);
  });
  document.body.appendChild(lg);
}

panels.forEach(drawPanel);
</script>
</body>
</html>
